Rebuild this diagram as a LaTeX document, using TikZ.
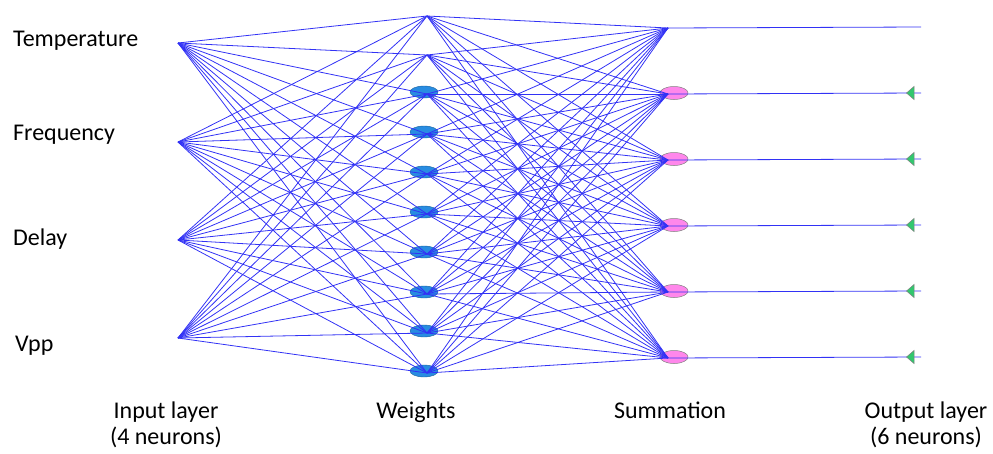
\documentclass[tikz,border=0pt]{standalone}
\usepackage{fontspec}
\setmainfont{Carlito}
\usetikzlibrary{shapes.geometric}
\definecolor{linkblue}{RGB}{50,50,245}
\definecolor{wblue}{RGB}{40,140,225}
\definecolor{spink}{RGB}{255,135,235}
\definecolor{ogreen}{RGB}{50,200,110}
\begin{document}
\begin{tikzpicture}[x=1pt,y=-1pt,
  conn/.style={draw=linkblue, line width=0.8pt},
  wnode/.style={ellipse, fill=wblue, draw=wblue!70!black, line width=0.4pt, minimum width=28pt, minimum height=12pt, inner sep=0pt},
  snode/.style={ellipse, fill=spink, draw=gray, line width=0.5pt, minimum width=28pt, minimum height=13pt, inner sep=0pt},
  omark/.style={fill=ogreen, draw=gray, line width=0.5pt},
  lbl/.style={font=\fontsize{24}{27}\selectfont, inner sep=0pt}]
\useasboundingbox (0,0) rectangle (993,453);
% input convergence points
\coordinate (i1) at (178,43);
\coordinate (i2) at (178,142);
\coordinate (i3) at (178,240);
\coordinate (i4) at (178,338);
% hidden (weights) points
\foreach \k/\y in {1/14,2/53,3/92,4/132,5/172,6/212,7/252,8/292,9/331,10/371}{
  \coordinate (h\k) at (427,\y+2);
}
\foreach \k/\y in {3/92,4/132,5/172,6/212,7/252,8/292,9/331,10/371}{
  \node[wnode] (he\k) at (424,\y) {};
}
% summation points
\foreach \k/\y in {1/27,2/93,3/159,4/225,5/291,6/357}{
  \coordinate (s\k) at (668,\y+1);
  \coordinate (o\k) at (921,\y);
}
\foreach \k/\y in {2/93,3/159,4/225,5/291,6/357}{
  \node[snode] (se\k) at (674,\y) {};
}
% connections
\foreach \a in {1,...,4}{
  \foreach \b in {1,...,10}{
    \draw[conn] (i\a) -- (h\b);
  }
}
\foreach \b in {1,...,10}{
  \foreach \c in {1,...,6}{
    \draw[conn] (h\b) -- (s\c);
  }
}
\foreach \c in {1,...,6}{
  \draw[conn] (s\c) -- (o\c);
}
% output markers
\foreach \k/\y in {2/93,3/159,4/225,5/291,6/357}{
  \draw[omark] (914,\y-6.5) -- (914,\y+6.5) .. controls (910,\y+3) .. (906.5,\y) .. controls (910,\y-3) .. cycle;
}
% labels
\node[lbl, anchor=base west] (tTemp) at (13,46) {Temperature};
\node[lbl, anchor=base west] (tFreq) at (13,140) {Frequency};
\node[lbl, anchor=base west] (tDelay) at (13,245) {Delay};
\node[lbl, anchor=base west] (tVpp) at (15,351) {Vpp};
\node[lbl, anchor=base] (tIn1) at (166,418) {Input layer};
\node[lbl, anchor=base] (tIn2) at (166,444) {(4 neurons)};
\node[lbl, anchor=base] (tW) at (416,418) {Weights};
\node[lbl, anchor=base] (tS) at (670,418) {Summation};
\node[lbl, anchor=base] (tOut1) at (926,418) {Output layer};
\node[lbl, anchor=base] (tOut2) at (926,444) {(6 neurons)};
\end{tikzpicture}
\end{document}
